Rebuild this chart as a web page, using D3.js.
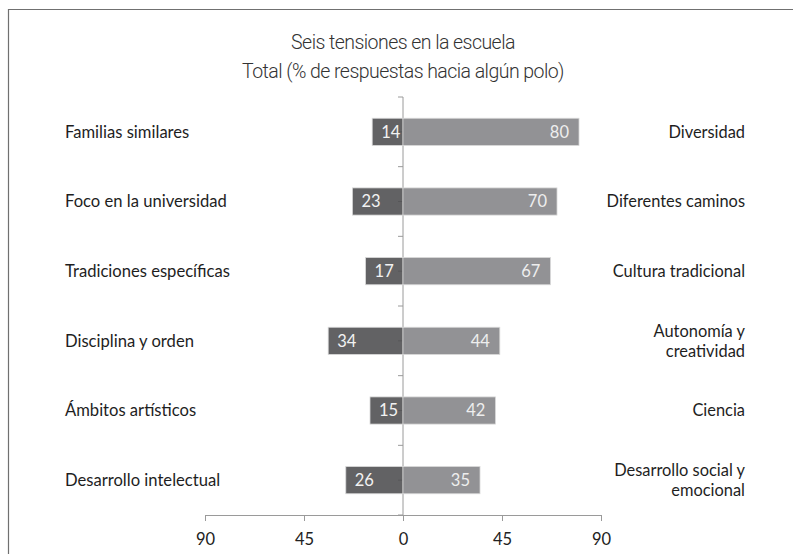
<!DOCTYPE html>
<html><head><meta charset="utf-8">
<script src="https://cdn.jsdelivr.net/npm/d3@7/dist/d3.min.js"></script>
<style>body{margin:0;background:#fff}svg{display:block}</style>
</head><body><svg id="c" width="793" height="554"></svg>
<script>
const leftLabels = ["Familias similares","Foco en la  universidad","Tradiciones específicas","Disciplina y orden","Ámbitos artísticos","Desarrollo intelectual"];
const rightLabels = [["Diversidad"],["Diferentes caminos"],["Cultura tradicional"],["Autonomía y","creatividad"],["Ciencia"],["Desarrollo social y","emocional"]];
const leftValues = [14,23,17,34,15,26];
const rightValues = [80,70,67,44,42,35];
const tickValues = [-90,-45,0,45,90];
const titleLines = ["Seis tensiones en la escuela","Total (% de respuestas hacia algún polo)"];

const svg = d3.select("#c");
const x = d3.scaleLinear().domain([-90,90]).range([205,601]);
const y = d3.scaleBand().domain(d3.range(leftLabels.length)).range([97,515]).paddingInner(0.61).paddingOuter(0.305);
const step = y.step();

// border
svg.append("path").attr("d","M8.5,560V9.5H800").attr("fill","none").attr("stroke","#707070").attr("stroke-width",1.2);

// title
svg.append("g").selectAll("text").data(titleLines).join("text")
  .attr("x",403).attr("y",(d,i)=>49+i*29).attr("text-anchor","middle")
  .attr("font-family","Roboto").attr("font-weight",300).attr("font-size",19.5).attr("letter-spacing",-0.55).attr("fill","#333")
  .text(d=>d);

// bottom axis
const xa = svg.append("g").attr("transform","translate(0,515)")
  .call(d3.axisBottom(x).tickValues(tickValues).tickSize(6).tickFormat(d=>Math.abs(d)));
xa.select(".domain").attr("stroke","#9a9a9a");
xa.selectAll(".tick line").attr("stroke","#9a9a9a");
xa.selectAll(".tick text").attr("font-family","Lato").attr("font-size",16.5).attr("fill","#222").attr("dy","1.25em");

// vertical axis ticks
const vt = [];
for(let i=0;i<=leftLabels.length*2;i++) vt.push(97+i*step/2);
svg.append("g").selectAll("line").data(vt).join("line")
  .attr("x1",x(0)-5).attr("x2",x(0)).attr("y1",d=>d).attr("y2",d=>d).attr("stroke","#9a9a9a");
svg.append("line").attr("x1",x(0)).attr("x2",x(0)).attr("y1",97).attr("y2",515).attr("stroke","#9a9a9a");

// bars
const g = svg.append("g");
g.selectAll(".l").data(leftValues).join("rect").attr("class","l")
  .attr("x",d=>x(-d)).attr("width",d=>x(0)-x(-d)).attr("y",(d,i)=>y(i)).attr("height",y.bandwidth())
  .attr("fill","#4c4c4f").attr("fill-opacity",0.88).attr("stroke","#d8d8d8").attr("stroke-width",0.8);
g.selectAll(".r").data(rightValues).join("rect").attr("class","r")
  .attr("x",x(0)).attr("width",d=>x(d)-x(0)).attr("y",(d,i)=>y(i)).attr("height",y.bandwidth())
  .attr("fill","#838386").attr("fill-opacity",0.88).attr("stroke","#d8d8d8").attr("stroke-width",0.8);

// value labels
g.selectAll(".lt").data(leftValues).join("text").attr("class","lt")
  .attr("x",d=>x(-d)+9).attr("y",(d,i)=>y(i)+y.bandwidth()/2).attr("dy","0.36em")
  .attr("font-family","Lato").attr("font-size",16.5).attr("fill","#f2f2f2").text(d=>d);
g.selectAll(".rt").data(rightValues).join("text").attr("class","rt")
  .attr("x",d=>x(d)-10).attr("y",(d,i)=>y(i)+y.bandwidth()/2).attr("dy","0.36em").attr("text-anchor","end")
  .attr("font-family","Lato").attr("font-size",16.5).attr("fill","#eeeeee").text(d=>d);

// category labels
svg.append("g").selectAll("text").data(leftLabels).join("text")
  .attr("x",65).attr("y",(d,i)=>y(i)+y.bandwidth()/2).attr("dy","0.36em")
  .attr("font-family","Lato").attr("font-size",16.6).attr("fill","#1e1e1e").text(d=>d);
const rg = svg.append("g").selectAll("text").data(rightLabels).join("text")
  .attr("x",745).attr("y",(d,i)=>y(i)+y.bandwidth()/2).attr("text-anchor","end")
  .attr("font-family","Lato").attr("font-size",16.4).attr("fill","#1e1e1e");
rg.selectAll("tspan").data(d=>d.map((t,j)=>({t,j,n:d.length}))).join("tspan")
  .attr("x",745).attr("dy",d=>d.j===0?(0.36-(d.n-1)*0.6)+"em":"1.2em").text(d=>d.t);
</script></body></html>
